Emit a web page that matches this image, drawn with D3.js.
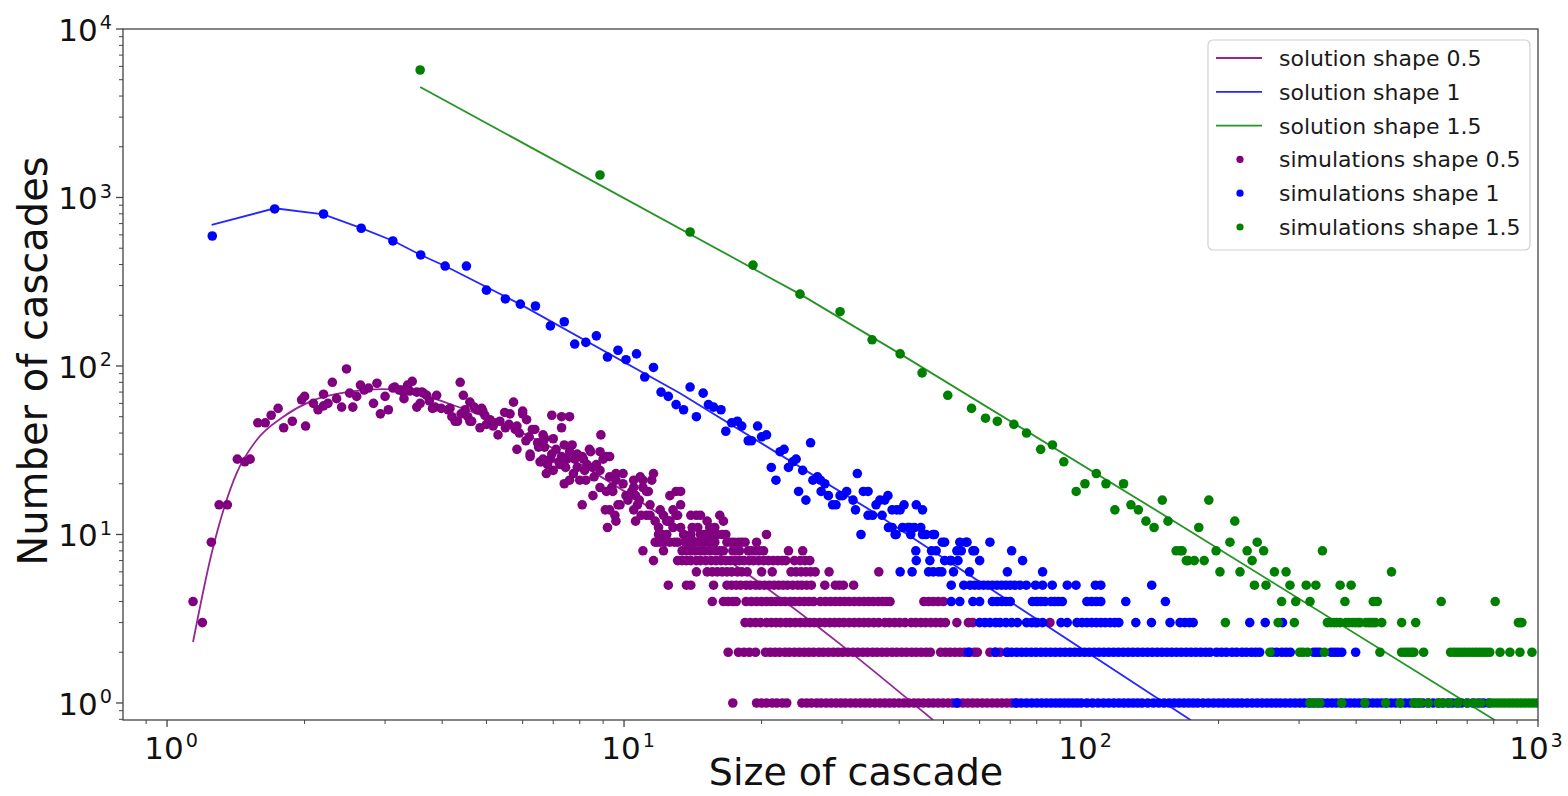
<!DOCTYPE html>
<html>
<head>
<meta charset="utf-8">
<script src="https://cdn.jsdelivr.net/npm/d3@7"></script>
<style>
  body { margin: 0; background: #fff; }
  text { font-family: "DejaVu Sans", sans-serif; }
</style>
</head>
<body>
<svg id="chart" width="1568" height="796"></svg>
<script>
// ---------- data ----------
const xTickExps = [0, 1, 2, 3];
const yTickExps = [0, 1, 2, 3, 4];

const legendLabels = [
  "solution shape 0.5", "solution shape 1", "solution shape 1.5",
  "simulations shape 0.5", "simulations shape 1", "simulations shape 1.5"
];

// analytic solutions (size, number of cascades)
const solution05 = [[1.14,2.30],[1.252,7.73],[1.42,23.1],[1.571,36.4],[1.797,50],[2.055,61.4],[2.514,70.4],[2.97,72.8],[3.52,68.9],[4.16,59.5],[5.355,45.9],[6.65,34.9],[8.86,22.2],[12.8,11.7],[18.5,5.9],[30.2,2.16],[47.5,0.79]];
const solution1 = [[1.252,687],[1.72,863],[2.20,794],[2.67,656],[3.13,552],[3.59,456],[4.06,392],[5.92,233],[13.26,68.9],[34.5,14.0],[174,0.79]];
const solution15 = [[3.58,4530],[24.27,267],[40.2,118],[164.7,11.4],[805,0.79]];

// simulations, shape 0.5: scattered counts above 10
const sim05Cloud = [[1.14,4],[1.195,3],[1.25,9],[1.30,15],[1.355,15],[1.425,28],[1.48,27],[1.52,28],[1.58,46],[1.64,46],[1.69,51],[1.75,56],[1.80,43],[1.88,47],[1.97,63],[2.01,44],[2.09,60],[2.14,55],[2.20,58],[2.25,60],[2.30,80],[2.35,64],[2.41,57],[2.47,96],[2.51,69],[2.55,57],[2.65,77],[2.76,74],[2.83,60],[2.88,79],[2.93,52],[3.00,66],[3.05,55],[3.12,74],[3.15,75],[3.22,72],[3.26,72],[3.29,70],[3.36,77],[3.44,81],[3.52,57],[3.52,70],[3.58,60],[3.61,70],[3.64,69],[3.70,67],[3.81,56],[3.86,57],[3.89,67],[3.98,56],[4.12,55],[4.16,56],[4.27,47],[4.32,47],[4.38,80],[4.45,67],[4.49,55],[4.60,61],[4.60,47],[4.64,47],[4.70,57],[4.77,55],[4.84,43],[4.88,56],[4.91,54],[4.96,51],[5.09,48],[5.17,44],[5.20,46],[5.30,39],[5.48,53],[5.50,43],[5.63,52],[5.73,61],[5.78,42],[5.83,44],[5.83,32],[6.00,54],[6.00,52],[6.10,36],[6.12,48],[6.23,29],[6.23,30],[6.30,42],[6.38,42],[6.47,35],[6.55,27],[6.60,27],[6.65,39],[6.65,36],[6.65,28],[6.70,37],[6.70,33],[6.76,23],[6.80,26],[6.95,51],[6.95,30],[7.00,37],[7.00,24],[7.10,32],[7.24,26],[7.30,50],[7.30,43],[7.30,29],[7.40,34],[7.40,20],[7.50,28],[7.60,50],[7.60,31],[7.60,21],[7.70,34],[7.75,23],[7.80,28],[7.90,30],[7.90,25],[8.00,21],[8.10,15],[8.10,29],[8.15,28],[8.25,21],[8.30,26],[8.40,32],[8.45,31],[8.55,25],[8.55,17],[8.70,26],[8.86,24],[8.86,31],[8.86,19],[8.90,39],[9.00,28],[9.10,14],[9.15,29],[9.15,18],[9.20,11],[9.30,29],[9.30,22],[9.30,14],[9.45,18],[9.55,13],[9.60,23],[9.60,21],[9.60,12],[9.70,15],[9.80,15],[9.95,23],[9.95,20],[10.1,17],[10.4,18],[10.5,21],[10.5,19],[10.5,14],[10.6,17],[10.6,12],[10.7,15],[10.85,22],[10.9,13],[11.0,21],[11.0,19],[11.2,18],[11.2,13],[11.3,18],[11.4,13],[11.5,21],[11.6,23],[11.7,12],[11.9,11],[12.4,12],[12.5,12],[12.6,12],[12.6,17],[12.8,14],[12.8,11],[13.0,13],[13.0,18],[13.1,13],[13.3,15],[13.3,18],[13.3,11],[14.0,13],[14.1,11],[14.4,13],[14.5,11],[14.7,13],[15.2,12],[15.4,11],[15.8,11],[16.2,13],[16.5,12],
  [2.00,66],[2.20,68],[2.60,66],[2.70,72],[3.30,64],[3.40,71],[3.75,62],[4.20,50],[4.40,52],[4.55,50],[5.00,45],[5.35,47],[5.60,45],[5.90,40],[6.20,38],[6.50,33],[6.90,28],[7.20,27],[7.45,25],[8.20,24],[8.60,22],[9.40,19],[10.2,16],[10.8,16],[11.4,15],[12.0,14],[12.2,13]];

// simulations, shape 0.5: sizes observed with low counts (count, sizes)
const sim05Rows = [
  [10, [11.9,12.1,12.4,13.5,14.0,14.7,15.0,15.4,15.7,16.0,16.4,16.7,20.5]],
  [9, [11.7,11.8,12.0,12.3,12.6,12.9,13.1,13.6,13.9,14.2,14.5,14.9,15.3,15.6,15.8,16.8,17.1,17.4,17.8,18.1,18.4,19.5]],
  [8, [11.0,12.2,13.4,13.7,14.0,14.3,14.7,15.0,15.4,15.9,16.2,16.5,17.3,17.6,17.9,18.7,19.0,19.4,19.8,20.2,22.9,24.6]],
  [7, [11.6,13.1,13.4,13.7,14.0,14.4,14.7,15.1,15.5,15.9,16.3,16.7,17.1,17.5,17.9,18.3,18.8,19.2,19.7,20.2,20.7,21.2,21.7,22.2,22.6,23.6,24.3,24.9,25.5]],
  [6, [14.4,15.2,15.6,16.0,16.4,16.8,17.2,17.7,18.1,18.6,20.0,21.1,23.2,23.8,24.4,25.0,25.6,26.2,28.1,36.1]],
  [5, [12.5,13.7,14.0,15.7,16.8,17.2,17.6,18.0,18.5,18.9,19.4,19.8,20.3,20.8,21.3,21.8,22.3,22.8,23.4,24.0,24.5,25.1,25.7,27.5,29.0,29.6,30.2,31.8]],
  [4, [15.6,16.5,16.9,17.3,17.6,18.5,19.0,19.5,20.0,20.5,21.0,21.5,22.0,22.5,23.1,23.6,24.2,24.8,25.4,26.0,26.9,27.6,28.3,29.0,29.7,30.4,31.1,31.9,32.7,33.5,34.3,35.1,36.0,36.8,37.5,38.2,45.3,46.4,47.5,48.7,50.0]],
  [3, [18.4,18.9,19.4,19.9,20.5,21.0,21.5,22.0,22.6,23.1,23.7,24.3,24.9,25.5,26.1,26.8,27.5,28.2,28.9,29.6,30.3,31.1,31.9,32.7,33.5,34.3,35.2,36.1,37.2,38.1,39.1,40.1,41.2,42.5,43.5,44.6,45.7,46.9,48.1,49.3,50.5,53.5,56.7,58.0,79.5,85.5]],
  [2, [16.9,17.8,18.3,18.8,19.4,20.4,20.9,21.4,21.9,22.5,23.0,23.6,24.2,24.8,25.4,26.0,26.7,27.3,28.0,28.7,29.4,30.1,30.9,31.7,32.5,33.3,34.1,35.0,35.8,36.7,37.6,38.6,39.5,40.5,41.5,42.6,43.6,44.7,45.8,46.8,49.3,50.5,51.7,53.0,54.3,55.6,57.0,58.4,59.3,63.2,64.8,66.5,69.0]],
  [1, [17.3,19.5,20.0,20.5,21.1,21.6,22.2,22.7,24.5,25.1,25.7,26.4,27.0,27.7,28.4,29.1,29.8,30.5,31.3,32.1,32.9,33.7,34.5,35.4,36.3,37.2,38.1,39.0,40.0,41.0,42.0,43.1,44.1,45.2,46.4,47.5,48.7,49.9,51.2,52.4,53.7,55.1,56.5,57.9,59.3,60.8,62.3,63.9,65.5,67.1,68.8,70.5,72.3]]
];

// simulations, shape 1
const sim1Cloud = [[1.256,591],[1.72,855],[2.20,798],[2.66,657],[3.12,552],[3.59,456],[4.06,392],[4.52,392],[5.0,282],[5.5,250],[5.93,233],[6.4,227],[6.9,173],[7.4,183],[7.8,135],[8.25,138],[8.7,151],[9.2,113],[9.7,124],[10.1,109],[10.65,118],[11.1,86],[11.6,98],[12.05,70],[12.5,66],[13.0,59],[13.5,55],[13.95,75],[14.4,50],[14.9,69],[15.3,59],[15.7,57],[16.3,55],[16.7,41],[17.2,46],[17.7,47],[18.1,44],[18.7,36],[19.0,36],[19.6,44],[20.0,38],[20.5,39],[21.0,25],[21.5,21],[21.95,31],[22.4,32],[22.9,25],[23.4,27],[23.8,28],[24.1,18],[24.6,24],[25.0,16],[25.6,35],[25.9,21],[26.5,22],[26.9,21],[27.0,18],[27.5,20],[28.0,17],[28.6,15],[29.1,15],[29.7,17],[30.1,17],[30.7,18],[31.7,16],[32.1,14],[32.4,23],[33.4,18],[34.2,18],[34.2,13],[35.0,13],[35.6,15],[36.3,16],[36.7,13],[37.2,16],[37.8,17],[38.6,14],[39.5,14],[40.2,14],[41.0,15],[43.6,15],[45.0,14],[37.9,11],[38.6,11],[40.7,11],[41.8,11],[42.2,11],[43.2,11],[44.6,11]];

const sim1Rows = [
  [10, [33.0,39.2,39.4,42.4,45.0,45.8,47.4,47.8]],
  [9, [49.7,50.3,54.3,56.0,56.3,63.2]],
  [8, [43.5,47.1,48.2,53.5,54.7,58.0,58.5,70.5]],
  [7, [43.6,46.7,50.3,51.7,52.0,53.8,60.0,74.5]],
  [6, [40.2,42.7,46.4,47.5,48.8,49.6,52.6,57.0,69.0,82.4]],
  [5, [52.0,55.4,57.2,58.5,59.8,61.2,62.6,64.0,65.5,67.0,68.5,70.0,71.6,73.5,75.9,79.5,82.4,86.5,93.3,97.5,107.5,110.5,142.8]],
  [4, [52.0,54.3,58.0,60.0,64.0,65.5,67.0,68.5,70.0,78.3,80.0,81.7,83.4,86.0,87.6,89.3,91.0,103,105.5,108,110.5,125.3,153]],
  [3, [60.0,61.6,63.2,65.0,66.5,68.5,70.5,72.6,76.0,78.0,80.2,82.4,90.4,93.3,98,100.5,103,105.5,108,110.5,113,115.8,118.5,121,131.8,142.6,156.6,164.7,168.7,172.7,176,234,253,276]],
  [2, [56.7,65.0,68.8,70.5,72.3,74.1,75.9,77.8,79.7,81.7,83.7,85.8,87.9,90.1,92.3,94.6,96.9,99.3,101.8,104.3,106.9,109.5,112.2,115.0,117.8,120.7,123.7,126.8,129.9,133.1,136.4,139.8,143.2,146.8,150.4,154.1,157.9,161.8,165.8,169.9,174.1,178.4,182.8,187.3,191.5,198,203,208,214,219,225,230,236,241,246,262,268,275,281,287,323,328,333,353,359,365,372,399]],
  [1, [53.5,72,74,76,78,80,82,84,86,88,90,92,94,96,98,100,103,106,109,112,115,118,121,124,127,130,133,136,140,144,148,152,156,160,164,168,172,176,180,185,190,195,200,205,210,215,220,225,231,237,243,249,255,261,267,273,280,287,294,301,308,315,322,330,338,346,354,362,370,379,388,397,406,415,425,435,445,455,466,477,488,500,512,524,536,548,560,575,590,605,620,635,650,665,680,700,720,740,760,780]]
];

// simulations, shape 1.5
const sim15Cloud = [[3.58,5710],[8.86,1360],[13.95,624],[19.15,397],[24.27,267],[29.7,210],[34.9,143],[40.2,118],[44.9,91],[51.1,67],[57.6,56],[61.8,49],[65.6,47],[71.3,45],[76.0,40],[81.6,32],[86.6,34],[91.7,27],[97.6,18],[102,20],[108,23],[113.4,20],[118.6,14],[123.9,20],[128.6,15],[133.5,14],[138.7,12],[144.5,11],[150.6,16],[155,12],[181,11],[190.4,16],[217,12]];

const sim15Rows = [
  [9, [211.8,243]],
  [8, [161.5,164.7,166.4,197.5,231,251,337.5]],
  [7, [170,171.6,177,186,236.8]],
  [6, [201.4,222.8,265,281,478]],
  [5, [239.6,254,286.6,311,326.5,369,390]],
  [4, [274.7,295,317,378,436,445,614,806]],
  [3, [207,270,293,346,352,358,363,369,380,386,392,398,404,408,420,426,431,436,441,455,503,540,906,914,922]],
  [2, [259,301,306,313,341,451,503,512,520,528,535,562,644,656,668,680,692,705,718,731,744,757,770,784,826,868,913,970]],
  [1, [317,325,333,372,418,464,499,535,541,552,575,605,618,640,668,700,725,750,785,800,816,832,848,865,882,900,918,936,955,974,993]]
];

const seriesColors = ["purple", "blue", "green"];

// ---------- layout ----------
const svg = d3.select("#chart");
const plot = { left: 123, top: 29, right: 1538, bottom: 720 };

const x = d3.scaleLog().domain([0.801, 1000]).range([plot.left, plot.right]);
const y = d3.scaleLog().domain([0.7925, 1e4]).range([plot.bottom, plot.top]);

svg.append("defs").append("clipPath").attr("id", "plot-clip")
  .append("rect")
  .attr("x", plot.left).attr("y", plot.top)
  .attr("width", plot.right - plot.left).attr("height", plot.bottom - plot.top);

const body = svg.append("g").attr("clip-path", "url(#plot-clip)");

function expandRows(rows) {
  const pts = [];
  rows.forEach(([count, sizes]) => sizes.forEach(s => pts.push([s, count])));
  return pts;
}

const scatterSets = [
  sim05Cloud.concat(expandRows(sim05Rows)),
  sim1Cloud.concat(expandRows(sim1Rows)),
  sim15Cloud.concat(expandRows(sim15Rows))
];

// scatter markers (drawn below the lines)
scatterSets.forEach((pts, i) => {
  body.append("g").selectAll("circle").data(pts).join("circle")
    .attr("cx", d => x(d[0]))
    .attr("cy", d => y(d[1]))
    .attr("r", 4.8)
    .attr("fill", seriesColors[i]);
});

// solution lines
const lineGen = d3.line().x(d => x(d[0])).y(d => y(d[1]));
[[solution05, d3.curveMonotoneX], [solution1, d3.curveLinear], [solution15, d3.curveLinear]]
  .forEach(([pts, curve], i) => {
    body.append("path")
      .attr("d", lineGen.curve(curve)(pts))
      .attr("fill", "none")
      .attr("stroke", seriesColors[i])
      .attr("stroke-width", 1.8)
      .attr("stroke-opacity", 0.85);
  });

// ---------- axes ----------
const axisColor = "#444";
function minorTicks(lo, hi) {
  const out = [];
  for (let e = Math.floor(Math.log10(lo)); e <= Math.ceil(Math.log10(hi)); e++) {
    for (let m = 2; m <= 9; m++) {
      const v = m * Math.pow(10, e);
      if (v >= lo && v <= hi) out.push(v);
    }
  }
  return out;
}

const xMajor = xTickExps.map(e => Math.pow(10, e));
const yMajor = yTickExps.map(e => Math.pow(10, e));

const gx = svg.append("g");
gx.selectAll("line.major").data(xMajor).join("line")
  .attr("x1", d => x(d)).attr("x2", d => x(d))
  .attr("y1", plot.bottom).attr("y2", plot.bottom + 7)
  .attr("stroke", axisColor).attr("stroke-width", 1.3);
gx.selectAll("line.minor").data(minorTicks(x.domain()[0], x.domain()[1])).join("line")
  .attr("x1", d => x(d)).attr("x2", d => x(d))
  .attr("y1", plot.bottom).attr("y2", plot.bottom + 4)
  .attr("stroke", axisColor).attr("stroke-width", 1);

const gy = svg.append("g");
gy.selectAll("line.major").data(yMajor).join("line")
  .attr("y1", d => y(d)).attr("y2", d => y(d))
  .attr("x1", plot.left).attr("x2", plot.left - 7)
  .attr("stroke", axisColor).attr("stroke-width", 1.3);
gy.selectAll("line.minor").data(minorTicks(y.domain()[0], y.domain()[1])).join("line")
  .attr("y1", d => y(d)).attr("y2", d => y(d))
  .attr("x1", plot.left).attr("x2", plot.left - 4)
  .attr("stroke", axisColor).attr("stroke-width", 1);

// tick labels as 10 with a superscript exponent
function powerLabel(sel) {
  sel.append("tspan").text("10");
  sel.append("tspan").attr("dy", "-0.62em").attr("dx", "2").attr("font-size", "0.62em").text(d => d);
}
svg.append("g").selectAll("text").data(xTickExps).join("text")
  .attr("x", d => Math.min(x(Math.pow(10, d)) + 4, 1536))
  .attr("y", 759)
  .attr("text-anchor", "middle")
  .attr("font-size", 31)
  .attr("fill", "#111")
  .call(powerLabel);
svg.append("g").selectAll("text").data(yTickExps).join("text")
  .attr("x", 112)
  .attr("y", d => y(Math.pow(10, d)) + 12)
  .attr("text-anchor", "end")
  .attr("font-size", 31)
  .attr("fill", "#111")
  .call(powerLabel);

// frame
svg.append("rect")
  .attr("x", plot.left).attr("y", plot.top)
  .attr("width", plot.right - plot.left).attr("height", plot.bottom - plot.top)
  .attr("fill", "none").attr("stroke", axisColor).attr("stroke-width", 1.3);

// axis titles
svg.append("text")
  .attr("x", 856).attr("y", 785)
  .attr("text-anchor", "middle").attr("font-size", 38).attr("fill", "#111")
  .text("Size of cascade");
svg.append("text")
  .attr("transform", "translate(47,361) rotate(-90)")
  .attr("text-anchor", "middle").attr("font-size", 40).attr("fill", "#111")
  .text("Number of cascades");

// ---------- legend ----------
const legend = svg.append("g");
legend.append("rect")
  .attr("x", 1208).attr("y", 40).attr("width", 322).attr("height", 210)
  .attr("rx", 5).attr("fill", "#fff").attr("fill-opacity", 0.85)
  .attr("stroke", "#d0d0d0").attr("stroke-width", 1.2);
const rowY = i => 58 + i * 33.8;
legendLabels.forEach((label, i) => {
  const c = seriesColors[i % 3];
  if (i < 3) {
    legend.append("line")
      .attr("x1", 1216).attr("x2", 1262).attr("y1", rowY(i)).attr("y2", rowY(i))
      .attr("stroke", c).attr("stroke-width", 1.8).attr("stroke-opacity", 0.85);
  } else {
    legend.append("circle").attr("cx", 1240).attr("cy", rowY(i)).attr("r", 3.6).attr("fill", c);
  }
  legend.append("text")
    .attr("x", 1279).attr("y", rowY(i) + 8)
    .attr("font-size", 22).attr("fill", "#1a1a1a")
    .text(label);
});
</script>
</body>
</html>
